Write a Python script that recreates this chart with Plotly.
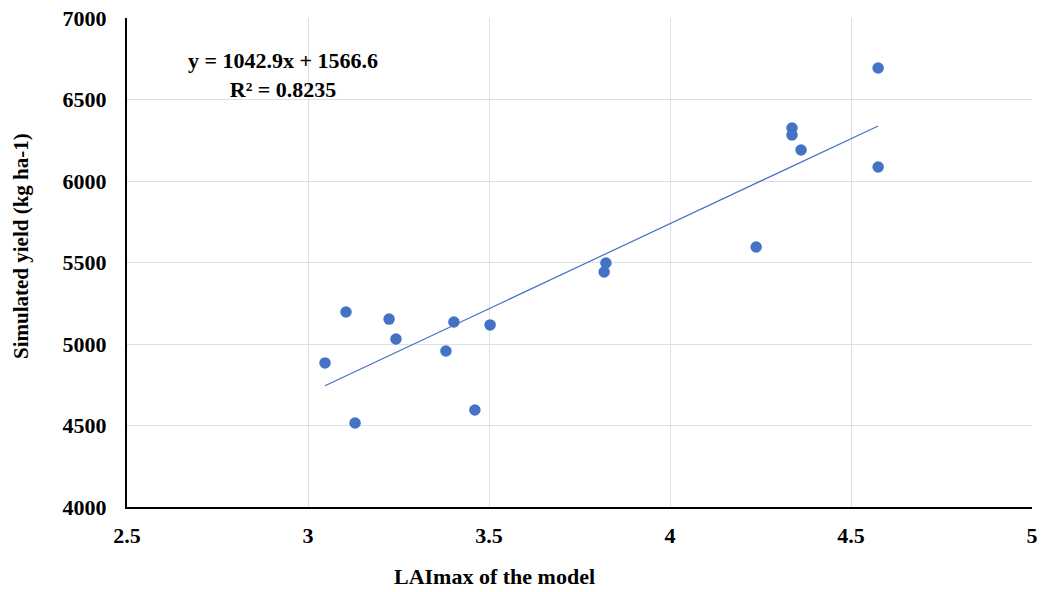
import plotly.graph_objects as go

# LAImax simulated by the model and the corresponding simulated yield
lai_max = [3.047, 3.105, 3.130, 3.224, 3.243, 3.381, 3.403, 3.461, 3.503,
           3.818, 3.823, 4.238, 4.337, 4.337, 4.362, 4.575, 4.575]
sim_yield = [4884, 5196, 4515, 5153, 5031, 4957, 5135, 4595, 5117,
             5442, 5497, 5595, 6325, 6282, 6190, 6693, 6086]

# Linear trend coefficients
slope = 1042.9
intercept = 1566.6
r_squared = 0.8235

x_ticks = [2.5, 3, 3.5, 4, 4.5, 5]
y_ticks = [4000, 4500, 5000, 5500, 6000, 6500, 7000]

blue = "#4472C4"
font_family = "Liberation Serif, Times New Roman, serif"
fsize = 22

trend_x = [min(lai_max), max(lai_max)]
trend_y = [slope * v + intercept for v in trend_x]

fig = go.Figure()
fig.add_trace(go.Scatter(
    x=lai_max, y=sim_yield, mode="markers",
    marker=dict(color=blue, size=11.5, line=dict(width=0)),
    showlegend=False,
))
fig.add_trace(go.Scatter(
    x=trend_x, y=trend_y, mode="lines",
    line=dict(color=blue, width=1.2),
    showlegend=False,
))

tick_font = dict(family=font_family, size=fsize, color="black", weight="bold")
text_font = dict(family=font_family, size=fsize, color="black")

fig.update_layout(
    width=1047, height=592,
    margin=dict(l=127, r=15, t=18, b=85, autoexpand=False),
    plot_bgcolor="white", paper_bgcolor="white",
    font=text_font,
    xaxis=dict(
        range=[2.5, 5], tickvals=x_ticks, ticktext=[f"{v:g}" for v in x_ticks],
        showgrid=True, gridcolor="#dbe0e9", gridwidth=1,
        showline=True, linecolor="black", linewidth=2,
        ticks="", ticklabelstandoff=8, zeroline=False,
        tickfont=tick_font,
    ),
    yaxis=dict(
        range=[4000, 7000], tickvals=y_ticks,
        showgrid=True, gridcolor="#dbe0e9", gridwidth=1,
        showline=True, linecolor="black", linewidth=2,
        ticks="", ticklabelstandoff=14, zeroline=False,
        tickfont=tick_font,
    ),
    annotations=[
        dict(text="<b>Simulated yield (kg ha-1)</b>", xref="paper", yref="paper",
             x=-(127 - 21) / 905, y=1 - (246 - 18) / 489, textangle=-90,
             xanchor="center", yanchor="middle", showarrow=False,
             font=dict(family=font_family, size=21, color="black")),
        dict(text="<b>LAImax of the model</b>", xref="paper", yref="paper",
             x=(494 - 127) / 905, y=-(576 - 507) / 489,
             xanchor="center", yanchor="middle", showarrow=False, font=text_font),
        dict(text=f"<b>y = {slope}x + {intercept}</b><br><b>R² = {r_squared}</b>",
             xref="paper", yref="paper",
             x=(283 - 127) / 905, y=1 - (75 - 18) / 489,
             xanchor="center", yanchor="middle", align="center",
             showarrow=False, font=text_font),
    ],
)

fig.write_html("out.html")
